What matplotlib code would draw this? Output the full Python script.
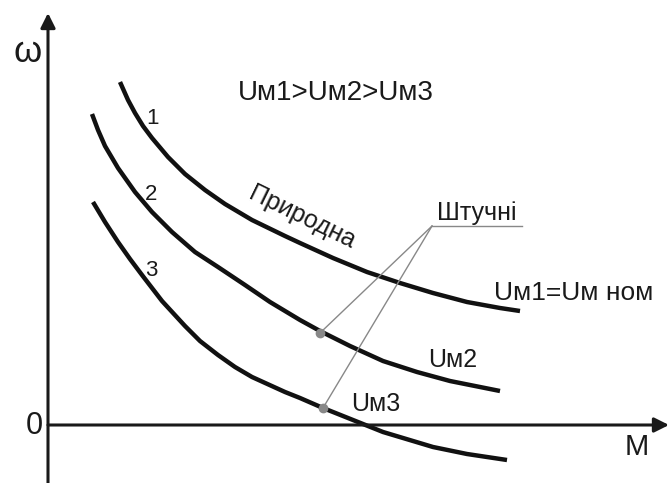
import matplotlib
matplotlib.use("Agg")
import matplotlib.pyplot as plt

plt.rcParams['font.family'] = ['Liberation Sans', 'DejaVu Sans']

# mechanical characteristics w(M) for three supply voltages, axis units
m1 = [72, 80, 87, 95, 104, 120, 137, 157, 177, 204, 237, 252, 285, 319, 352, 385, 419, 452, 472]
w1 = [343, 325, 312, 299, 287, 268, 251, 235, 221, 205, 189, 182, 167, 153, 142, 132, 123, 117, 114]

m2 = [44, 50, 57, 70, 87, 104, 124, 147, 170, 197, 222, 252, 272, 302, 335, 369, 402, 452]
w2 = [311, 295, 279, 257, 233, 213, 193, 173, 158, 140, 123, 105, 94, 79, 64, 53, 44, 34]

m3 = [45, 57, 70, 82, 94, 114, 137, 152, 170, 187, 204, 237, 252, 275, 305, 335, 385, 419, 459]
w3 = [223, 203, 183, 166, 150, 124, 99, 84, 70, 58, 48, 33, 27, 17, 5, -7, -22, -29, -35]

# points marked on the artificial characteristics
dot_m = [272, 275]
dot_w = [92, 17]

# label anchor for the leader lines
note_m, note_w = 384, 199
note_end = 474

fig = plt.figure(figsize=(6.7, 4.83), dpi=100)
ax = fig.add_axes([0, 0, 1, 1])
ax.set_xlim(-48, 622)
ax.set_ylim(-58, 425)
ax.axis('off')

# axes with arrows
arrow = dict(arrowstyle='-|>', color='#1a1a1a', lw=2.2, mutation_scale=22,
             shrinkA=0, shrinkB=0)
ax.annotate('', xy=(0, 412), xytext=(0, -58), arrowprops=arrow)
ax.annotate('', xy=(621, 0), xytext=(0, 0), arrowprops=arrow)

for m, w in [(m1, w1), (m2, w2), (m3, w3)]:
    ax.plot(m, w, color='#111111', lw=3.2, solid_capstyle='butt',
            solid_joinstyle='round')

# leader lines to "Штучні"
ax.plot([note_m, note_end], [note_w, note_w], color='#888888', lw=1)
for dm, dw in zip(dot_m, dot_w):
    ax.plot([note_m, dm], [note_w, dw], color='#888888', lw=1)
ax.plot(dot_m, dot_w, 'o', color='#888888', ms=6, lw=0)

txt = dict(color='#1a1a1a', ha='center', va='center')
ax.text(-20, 373, 'ω', fontsize=26, **txt)
ax.text(-14, -1, '0', fontsize=22, **txt)
ax.text(589, -22, 'M', fontsize=21, **txt)
ax.text(288, 332, 'Uм1>Uм2>Uм3', fontsize=20, **txt)
ax.text(526, 132, 'Uм1=Uм ном', fontsize=19, **txt)
ax.text(405, 65, 'Uм2', fontsize=18, **txt)
ax.text(328, 21, 'Uм3', fontsize=18, **txt)
ax.text(429, 212, 'Штучні', fontsize=18, **txt)
ax.text(254, 208, 'Природна', fontsize=18, rotation=-26, rotation_mode='anchor', **txt)
ax.text(104, 306, '1', fontsize=16, **txt)
ax.text(103, 231, '2', fontsize=16, **txt)
ax.text(103, 155, '3', fontsize=16, **txt)

fig.savefig('out.png', dpi=100)
